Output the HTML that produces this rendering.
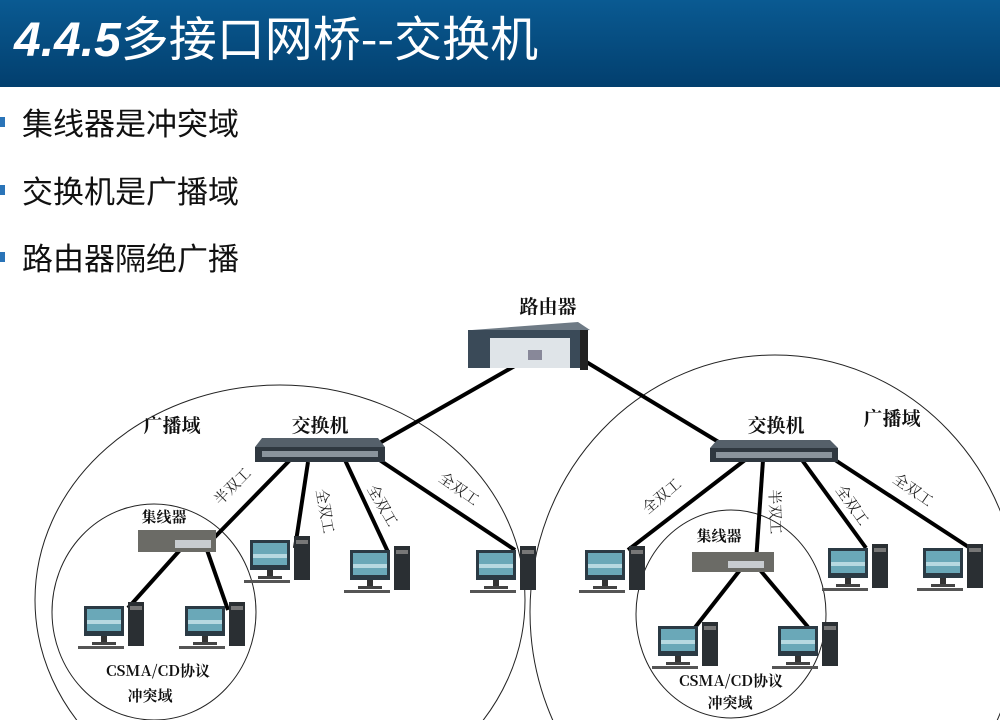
<!DOCTYPE html>
<html><head><meta charset="utf-8"><style>
html,body{margin:0;width:1000px;height:720px;background:#fff;overflow:hidden;font-family:"Liberation Sans","Noto Sans CJK SC",sans-serif}
.hd{position:absolute;left:0;top:0;width:1000px;height:87px;background:linear-gradient(#0a5a92,#023f6e)}
.hd span{position:absolute;left:14px;top:0px;color:#fff;font-size:48px;font-family:"Noto Sans CJK SC",sans-serif;white-space:nowrap}
.hd b{font-style:italic;font-family:"Liberation Sans",sans-serif}
.bl{position:absolute;left:22px;font-size:31px;line-height:40px;color:#111;font-family:"Noto Sans CJK SC",sans-serif}
.bl:before{content:"";position:absolute;left:-22px;top:15px;width:5px;height:10px;background:#2a74b8}
</style></head><body>
<div class="hd"><span><b>4.4.5</b>多接口网桥--交换机</span></div>
<div class="bl" style="top:102px">集线器是冲突域</div>
<div class="bl" style="top:170px">交换机是广播域</div>
<div class="bl" style="top:237px">路由器隔绝广播</div>
<svg width="1000" height="720" style="position:absolute;left:0;top:0" font-family="Noto Serif CJK SC, Noto Sans CJK SC, serif">
<defs>
<g id="pc">
<rect x="0" y="0" width="40" height="30" fill="#2b3a44"/>
<rect x="3" y="3" width="34" height="22" fill="#6aa8b8"/>
<rect x="3" y="14" width="34" height="4" fill="#d8eef2" opacity=".7"/>
<rect x="17" y="30" width="6" height="6" fill="#333"/>
<rect x="8" y="36" width="24" height="3" fill="#444"/>
<rect x="-6" y="40" width="46" height="3" fill="#555"/>
<rect x="44" y="-4" width="16" height="44" fill="#2a2f33"/>
<rect x="46" y="0" width="12" height="4" fill="#777"/>
</g>
</defs>
<g fill="none" stroke="#222" stroke-width="1">
<ellipse cx="280" cy="600" rx="245" ry="215"/>
<ellipse cx="775" cy="612" rx="245" ry="257"/>
<ellipse cx="154" cy="612" rx="102" ry="108"/>
<ellipse cx="731" cy="614" rx="95" ry="104"/>
</g>
<g stroke="#000" stroke-width="4" fill="none">
<line x1="548" y1="347" x2="355" y2="457"/>
<line x1="555" y1="343" x2="745" y2="458"/>
<line x1="290" y1="460" x2="210" y2="542"/>
<line x1="308" y1="462" x2="295" y2="548"/>
<line x1="345" y1="460" x2="388" y2="552"/>
<line x1="375" y1="457" x2="515" y2="550"/>
<line x1="180" y1="550" x2="128" y2="608"/>
<line x1="207" y1="550" x2="228" y2="610"/>
<line x1="745" y1="460" x2="628" y2="550"/>
<line x1="763" y1="460" x2="756" y2="562"/>
<line x1="802" y1="460" x2="866" y2="548"/>
<line x1="832" y1="458" x2="970" y2="548"/>
<line x1="740" y1="570" x2="693" y2="630"/>
<line x1="760" y1="570" x2="808" y2="627"/>
</g>
<polygon points="472,330 578,322 590,330 490,338" fill="#6e7a85"/>
<rect x="468" y="330" width="112" height="38" fill="#3a4a58"/>
<rect x="490" y="338" width="80" height="30" fill="#dfe4e8"/>
<rect x="528" y="350" width="14" height="10" fill="#889"/>
<rect x="580" y="330" width="8" height="40" fill="#222"/>
<polygon points="262,438 378,438 385,447 255,447" fill="#55606a"/>
<rect x="255" y="447" width="130" height="15" fill="#2f3840"/>
<rect x="262" y="451" width="116" height="6" fill="#8a949c"/>
<polygon points="717,440 830,440 838,448 710,448" fill="#55606a"/>
<rect x="710" y="448" width="128" height="14" fill="#2f3840"/>
<rect x="716" y="452" width="116" height="6" fill="#8a949c"/>
<rect x="138" y="530" width="78" height="22" fill="#6b6b66"/>
<rect x="175" y="540" width="36" height="8" fill="#c8ccd0"/>
<rect x="692" y="552" width="82" height="20" fill="#6b6b66"/>
<rect x="728" y="561" width="36" height="7" fill="#c8ccd0"/>
<use href="#pc" x="84" y="606"/>
<use href="#pc" x="185" y="606"/>
<use href="#pc" x="250" y="540"/>
<use href="#pc" x="350" y="550"/>
<use href="#pc" x="476" y="550"/>
<use href="#pc" x="585" y="550"/>
<use href="#pc" x="828" y="548"/>
<use href="#pc" x="923" y="548"/>
<use href="#pc" x="658" y="626"/>
<use href="#pc" x="778" y="626"/>
<g font-size="19" font-weight="bold" fill="#111" text-anchor="middle">
<text x="548" y="313">路由器</text>
<text x="320" y="432">交换机</text>
<text x="776" y="432">交换机</text>
<text x="172" y="432">广播域</text>
<text x="892" y="425">广播域</text>
</g>
<g font-size="15" font-weight="bold" fill="#111" text-anchor="middle">
<text x="164" y="522">集线器</text>
<text x="719" y="541">集线器</text>
<text x="158" y="676">CSMA/CD协议</text>
<text x="150" y="701">冲突域</text>
<text x="731" y="686">CSMA/CD协议</text>
<text x="730" y="708">冲突域</text>
</g>
<g font-size="15" fill="#222" text-anchor="middle">
<text transform="translate(236,490) rotate(-45)">半双工</text>
<text transform="translate(320,512) rotate(80)">全双工</text>
<text transform="translate(378,508) rotate(60)">全双工</text>
<text transform="translate(456,493) rotate(35)">全双工</text>
<text transform="translate(665,500) rotate(-40)">全双工</text>
<text transform="translate(770,512) rotate(88)">半双工</text>
<text transform="translate(848,508) rotate(55)">全双工</text>
<text transform="translate(910,494) rotate(35)">全双工</text>
</g>
</svg>
</body></html>
